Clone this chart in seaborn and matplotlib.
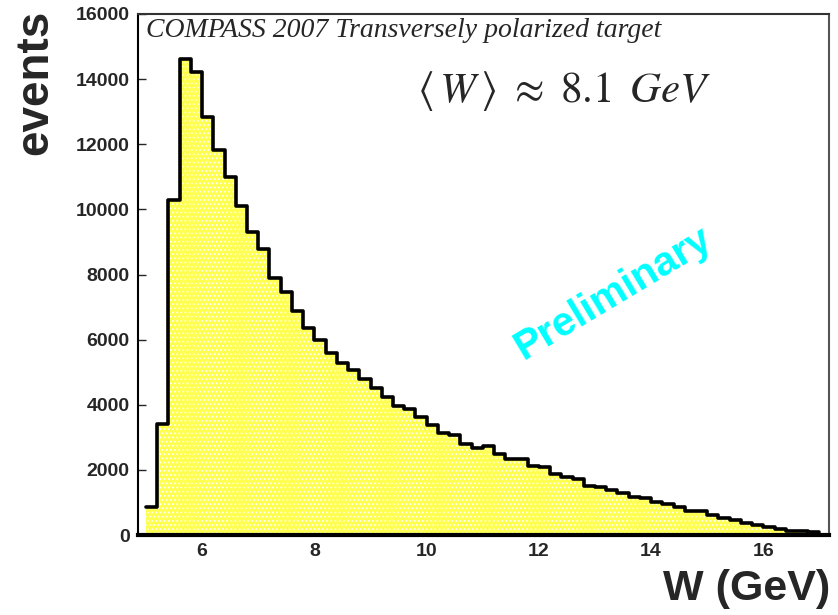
import numpy as np
import pandas as pd
import matplotlib
matplotlib.use("Agg")
import matplotlib.pyplot as plt
import seaborn as sns

# Bin edges of W (GeV): 0.2 GeV bins from 5.0 to 17.0
bin_lo = 5.0
bin_hi = 17.0
bin_width = 0.2

# events per bin (60 bins)
counts = [
    860, 3420, 10300, 14620, 14220, 12850, 11820, 10980, 10100, 9320,
    8770, 7880, 7470, 6880, 6350, 5980, 5580, 5270, 5070, 4780,
    4500, 4230, 3960, 3860, 3610, 3380, 3140, 3060, 2800, 2670,
    2730, 2490, 2330, 2330, 2130, 2080, 1870, 1790, 1730, 1510,
    1460, 1380, 1280, 1180, 1130, 1020, 940, 870, 740, 740,
    610, 510, 460, 380, 310, 240, 170, 130, 110, 100,
]

x_ticks = [6, 8, 10, 12, 14, 16]
y_ticks = [0, 2000, 4000, 6000, 8000, 10000, 12000, 14000, 16000]

edges = [float(e) for e in np.round(np.arange(bin_lo, bin_hi + bin_width / 2, bin_width), 3)]
centers = [(a + b) / 2 for a, b in zip(edges[:-1], edges[1:])]
df = pd.DataFrame({"W": centers, "events": counts})

sns.set_style("white")
plt.rcParams["font.family"] = ["Liberation Sans", "DejaVu Sans"]
plt.rcParams["hatch.linewidth"] = 0.7
plt.rcParams["mathtext.fontset"] = "stix"

fig = plt.figure(figsize=(8.38, 6.15), dpi=100)
ax = fig.add_axes([138 / 838, 1 - 535 / 615, (829 - 138) / 838, (535 - 14) / 615])

# filled histogram (yellow with fine white dot pattern)
sns.histplot(data=df, x="W", weights="events", bins=edges, element="step",
             fill=True, color="#ffff50", alpha=1.0, edgecolor="white",
             linewidth=0, hatch="....", ax=ax)
# black outline
sns.histplot(data=df, x="W", weights="events", bins=edges, element="step",
             fill=False, color="black", linewidth=2.6, ax=ax)

ax.set_xlim(4.857, 17.17)
ax.set_ylim(0, 16000)
ax.set_xticks(x_ticks)
ax.set_yticks(y_ticks)
ax.set_xticklabels([str(t) for t in x_ticks], fontsize=14, fontweight="bold")
ax.set_yticklabels([str(t) for t in y_ticks], fontsize=14, fontweight="bold")
ax.tick_params(axis="both", direction="in", length=6, width=1, pad=6,
               bottom=True, left=True, top=False, right=False)
ax.set_xlabel("")
ax.set_ylabel("")

ax.spines["left"].set_color("black")
ax.spines["left"].set_linewidth(1.5)
ax.spines["bottom"].set_color("black")
ax.spines["bottom"].set_linewidth(3)
ax.spines["top"].set_color("#333333")
ax.spines["top"].set_linewidth(1.5)
ax.spines["right"].set_color("#555555")
ax.spines["right"].set_linewidth(1.5)

# texts
ax.text(0.012, 0.992, "COMPASS 2007 Transversely polarized target",
        transform=ax.transAxes, ha="left", va="top", fontsize=20,
        family="Liberation Serif", style="italic")
ax.text(0.404, 0.853,
        r"$\langle\,W\,\rangle\ \approx\ \mathrm{8.1}\ \,GeV$",
        transform=ax.transAxes, ha="left", va="center", fontsize=31)
fig.text(613 / 838, 1 - 293 / 615, "Preliminary", rotation=31, color="#00ffff",
         fontsize=29.5, fontweight="bold", ha="center", va="center",
         rotation_mode="anchor")

fig.text(35 / 838, 1 - 10 / 615, "events", rotation=90, ha="center", va="top",
         fontsize=33, fontweight="bold")
fig.text(830 / 838, 1 - 600 / 615, "W (GeV)", ha="right", va="baseline",
         fontsize=31, fontweight="bold")

fig.savefig("out.png", dpi=100)
